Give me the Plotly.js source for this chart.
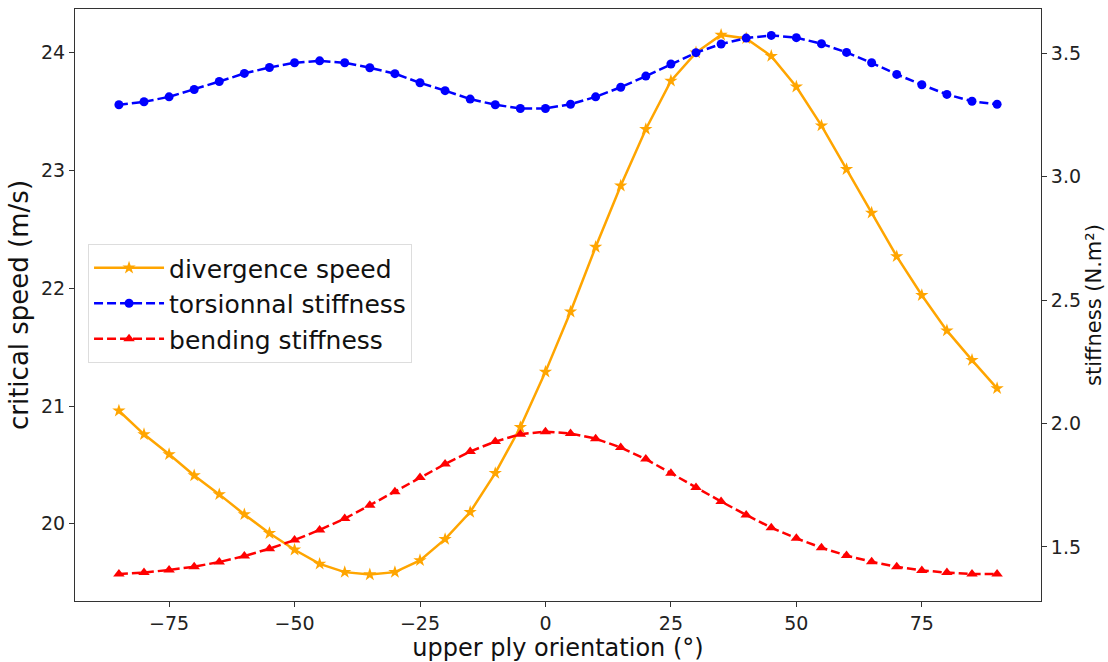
<!DOCTYPE html>
<html>
<head>
<meta charset="utf-8">
<script src="https://cdn.plot.ly/plotly-3.0.1.min.js"></script>
<style>html,body{margin:0;padding:0;background:#fff;}#chart{width:1108px;height:662px;}</style>
</head>
<body>
<div id="chart"></div>
<script>
const angles = [-85,-80,-75,-70,-65,-60,-55,-50,-45,-40,-35,-30,-25,-20,-15,-10,-5,0,5,10,15,20,25,30,35,40,45,50,55,60,65,70,75,80,85,90];
const divergenceSpeed = [20.96,20.76,20.59,20.41,20.25,20.08,19.92,19.78,19.66,19.59,19.57,19.59,19.69,19.87,20.10,20.43,20.82,21.29,21.80,22.35,22.87,23.35,23.76,24.00,24.15,24.12,23.97,23.71,23.38,23.01,22.64,22.27,21.94,21.64,21.39,21.15];
const torsionalStiffness = [3.292,3.304,3.324,3.354,3.386,3.419,3.443,3.462,3.470,3.462,3.442,3.418,3.381,3.349,3.315,3.292,3.277,3.277,3.294,3.324,3.363,3.408,3.457,3.503,3.538,3.562,3.573,3.564,3.539,3.504,3.462,3.415,3.373,3.334,3.306,3.294];
const bendingStiffness = [1.390,1.396,1.407,1.420,1.439,1.463,1.493,1.528,1.569,1.615,1.669,1.724,1.781,1.836,1.887,1.927,1.957,1.967,1.960,1.939,1.903,1.856,1.799,1.741,1.684,1.630,1.578,1.535,1.497,1.465,1.440,1.420,1.405,1.396,1.390,1.390];
const xTicks = [-75,-50,-25,0,25,50,75];
const yTicks = [20,21,22,23,24];
const y2Ticks = [1.5,2.0,2.5,3.0,3.5];

const font = "DejaVu Sans, sans-serif";
const traces = [
  {x: angles, y: divergenceSpeed, name: 'divergence speed', type: 'scatter', mode: 'lines+markers',
   line: {color: '#FFA500', width: 2.5}, marker: {symbol: 'star', size: 10, color: '#FFA500'}, yaxis: 'y'},
  {x: angles, y: torsionalStiffness, name: 'torsionnal stiffness', type: 'scatter', mode: 'lines+markers',
   line: {color: '#0000FF', width: 2.5, dash: '9px,4px'}, marker: {symbol: 'circle', size: 9, color: '#0000FF'}, yaxis: 'y2'},
  {x: angles, y: bendingStiffness, name: 'bending stiffness', type: 'scatter', mode: 'lines+markers',
   line: {color: '#FF0000', width: 2.5, dash: '9px,4px'}, marker: {symbol: 'triangle-up', size: 10, color: '#FF0000'}, yaxis: 'y2'}
];
const axisCommon = {showline: true, linecolor: '#333', linewidth: 1, ticks: 'outside', ticklen: 5, tickcolor: '#333',
  showgrid: false, zeroline: false, tickfont: {family: font, size: 19, color: '#222'}};
const layout = {
  width: 1108, height: 662,
  margin: {l: 75, r: 67, t: 9, b: 61},
  paper_bgcolor: '#fff', plot_bgcolor: '#fff',
  font: {family: font, color: '#222'},
  showlegend: true,
  legend: {x: 0.0135, y: 0.603, xanchor: 'left', yanchor: 'top', bgcolor: 'rgba(255,255,255,0.8)',
    bordercolor: '#ddd', borderwidth: 1, font: {family: font, size: 25, color: '#111'}, tracegroupgap: 0,
    itemwidth: 70},
  xaxis: Object.assign({}, axisCommon, {range: [-93.75, 98.75], tickvals: xTicks, mirror: true,
    title: {text: 'upper ply orientation (°)', font: {family: font, size: 24, color: '#111'}, standoff: 0}}),
  yaxis: Object.assign({}, axisCommon, {range: [19.345, 24.37], tickvals: yTicks,
    title: {text: 'critical speed (m/s)', font: {family: font, size: 26, color: '#111'}, standoff: 4}}),
  yaxis2: Object.assign({}, axisCommon, {overlaying: 'y', side: 'right', range: [1.281, 3.68], tickvals: y2Ticks,
    tickformat: '.1f',
    title: {text: 'stiffness (N.m²)', font: {family: font, size: 21, color: '#111'}, standoff: 6}})
};
Plotly.newPlot('chart', traces, layout, {displayModeBar: false, staticPlot: true});
</script>
</body>
</html>
